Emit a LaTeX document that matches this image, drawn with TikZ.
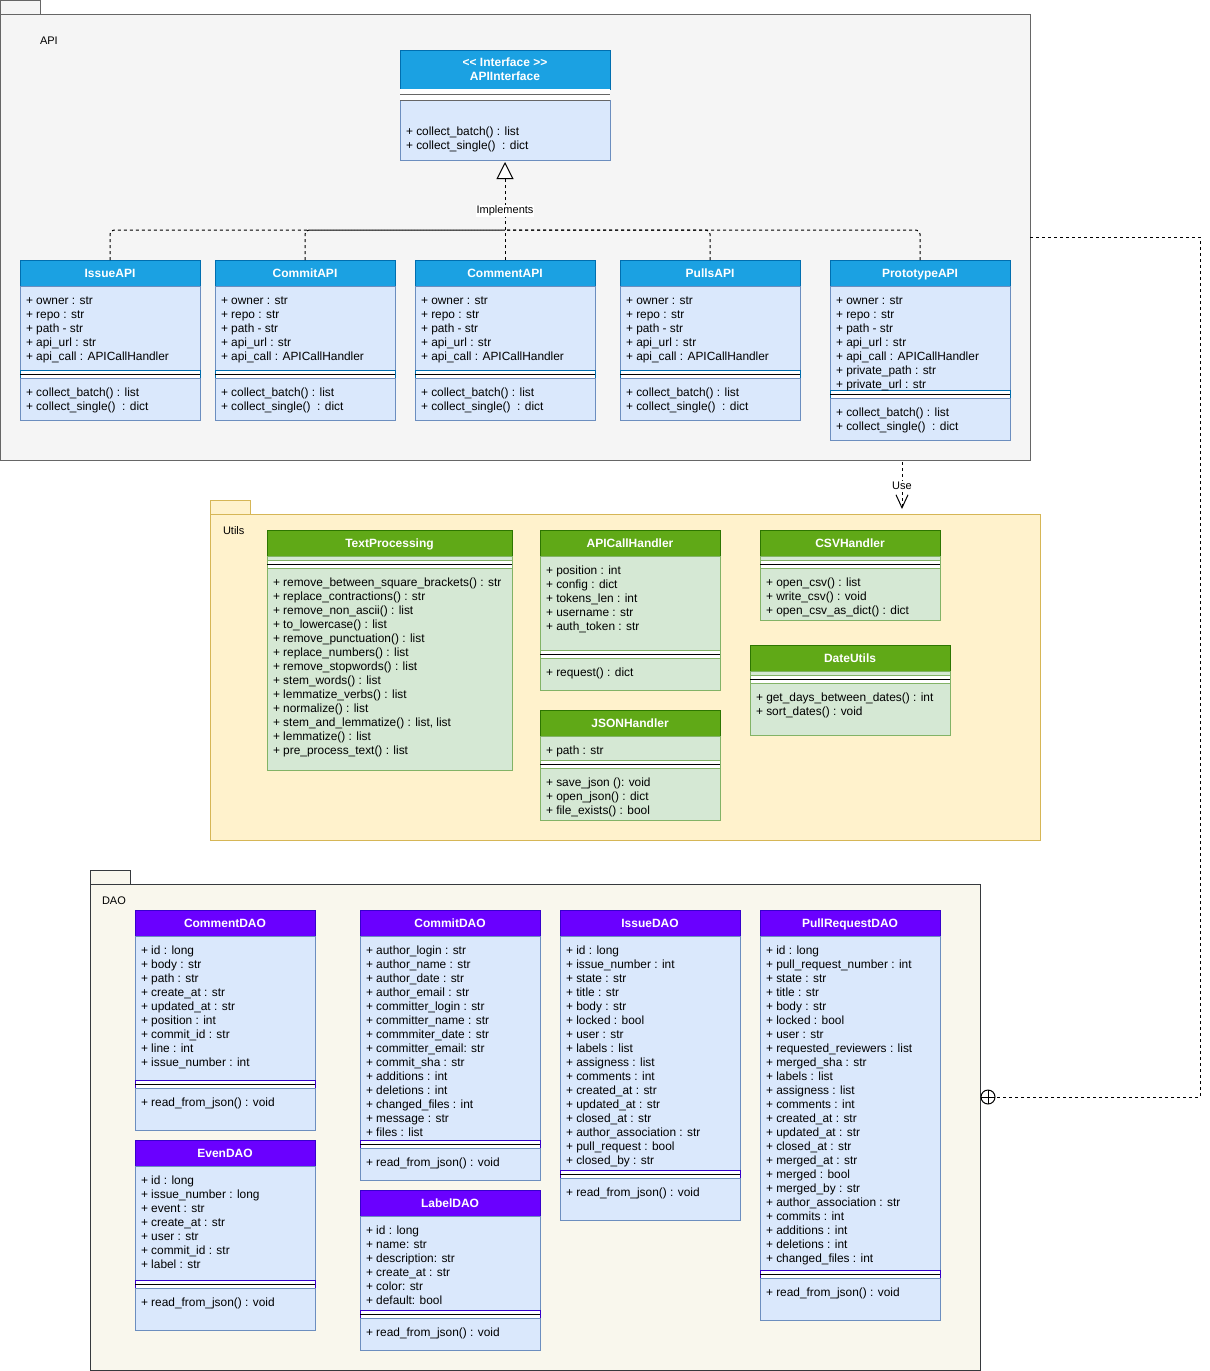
\documentclass[tikz,border=0pt]{standalone}
\usepackage{fontspec}
\setmainfont{Liberation Sans}
\usetikzlibrary{arrows.meta}
\definecolor{apiHdFill}{HTML}{1BA1E2}
\definecolor{apiHdLine}{HTML}{006EAF}
\definecolor{bodyBlue}{HTML}{DAE8FC}
\definecolor{bodyBlueLine}{HTML}{6C8EBF}
\definecolor{utlHdFill}{HTML}{60A917}
\definecolor{utlHdLine}{HTML}{2D7600}
\definecolor{bodyGreen}{HTML}{D5E8D4}
\definecolor{bodyGreenLine}{HTML}{82B366}
\definecolor{daoHdFill}{HTML}{6A00FF}
\definecolor{daoHdLine}{HTML}{3700CC}
\definecolor{pkgApiFill}{HTML}{F5F5F5}
\definecolor{pkgApiLine}{HTML}{666666}
\definecolor{pkgUtlFill}{HTML}{FFF2CC}
\definecolor{pkgUtlLine}{HTML}{D6B656}
\definecolor{pkgDaoFill}{HTML}{F9F7ED}
\definecolor{pkgDaoLine}{HTML}{36393D}
\newcommand\fsTxt{\fontsize{11.9}{14}\selectfont}
\newcommand\fsLbl{\fontsize{11}{14}\selectfont}
\newcommand\fsHd{\fontsize{12}{14}\selectfont\bfseries}
\tikzset{
  every node/.style={inner sep=0pt, outer sep=0pt},
  box/.style={draw, line width=1pt, anchor=north west, rectangle},
  hdbox/.style={box, text=white, font=\fsHd, align=center},
  apihd/.style={hdbox, fill=apiHdFill, draw=apiHdLine},
  apibd/.style={box, fill=bodyBlue, draw=bodyBlueLine},
  apisp/.style={box, fill=white, draw=apiHdLine},
  utlhd/.style={hdbox, fill=utlHdFill, draw=utlHdLine},
  utlbd/.style={box, fill=bodyGreen, draw=bodyGreenLine},
  utlsp/.style={box, fill=white, draw=bodyGreenLine},
  daohd/.style={hdbox, fill=daoHdFill, draw=daoHdLine},
  daobd/.style={box, fill=bodyBlue, draw=bodyBlueLine},
  daosp/.style={box, fill=white, draw=daoHdLine},
  sepline/.style={draw=black, line width=1pt},
  txt/.style={anchor=base west, font=\fsTxt},
  pkglabel/.style={anchor=west, font=\fsLbl},
  dashline/.style={draw=black, line width=1pt, dash pattern=on 3pt off 3pt},
  impl/.style={dashline, rounded corners=4pt},
  edgelabel/.style={fill=white, inner sep=1pt, font=\fsLbl},
}
% #1 name/title, #2 x, #3 y, #4 width, #5 attr height, #6 method height,
% #7 theme, #8 attributes, #9 methods
\newcommand\umlcls[9]{%
  \node[#7hd, minimum width=#4pt, minimum height=26pt, text height=8.6pt, text depth=0pt] (#1) at (#2,#3) {#1};
  \node[#7bd, minimum width=#4pt, minimum height=#5pt] (#1-attr) at (#1.south west) {};
  \node[#7sp, minimum width=#4pt, minimum height=8pt] (#1-sep) at (#1-attr.south west) {};
  \draw[sepline] (#1-sep.west) -- (#1-sep.east);
  \node[#7bd, minimum width=#4pt, minimum height=#6pt] (#1-meth) at (#1-sep.south west) {};
  \foreach \t [count=\i] in {#8} {\node[txt] at ([shift={(6,4+14*\i)}]#1-attr.north west) {\t};}
  \foreach \t [count=\i] in {#9} {\node[txt] at ([shift={(6,4+14*\i)}]#1-meth.north west) {\t};}
}
\begin{document}
\begin{tikzpicture}[x=1pt, y=-1pt]
\useasboundingbox (0,0) rectangle (1210,1371);

% ---------------- packages ----------------
\node[box, fill=pkgApiFill, draw=pkgApiLine, minimum width=40pt, minimum height=14pt] (apitab) at (0,0) {};
\node[box, fill=pkgApiFill, draw=pkgApiLine, minimum width=1030pt, minimum height=446pt] (api) at (0,14) {};
\node[pkglabel] (apilabel) at (40,41) {API};

\node[box, fill=pkgUtlFill, draw=pkgUtlLine, minimum width=40pt, minimum height=14pt] (utilstab) at (210,500) {};
\node[box, fill=pkgUtlFill, draw=pkgUtlLine, minimum width=830pt, minimum height=326pt] (utils) at (210,514) {};
\node[pkglabel] (utilslabel) at (223,531) {Utils};

\node[box, fill=pkgDaoFill, draw=pkgDaoLine, minimum width=40pt, minimum height=14pt] (daotab) at (90,870) {};
\node[box, fill=pkgDaoFill, draw=pkgDaoLine, minimum width=890pt, minimum height=486pt] (dao) at (90,884) {};
\node[pkglabel] (daolabel) at (102,901) {DAO};

% ---------------- API ----------------
\node[apihd, minimum width=210pt, minimum height=39pt] (APIInterface) at (400,50) {{<}{<} Interface {>}{>}\\APIInterface};
\node[box, draw=none, fill=white, minimum width=210pt, minimum height=11pt] (APIInterface-attr) at (APIInterface.south west) {};
\node[apibd, minimum width=210pt, minimum height=60pt] (APIInterface-meth) at (APIInterface-attr.south west) {};
\draw[draw=pkgApiLine, line width=1.5pt] ([yshift=-5.5pt]APIInterface.south west) -- ([yshift=-5.5pt]APIInterface.south east);
\draw[draw=pkgApiLine, line width=1pt] (APIInterface-meth.north west) -- (APIInterface-meth.north east);
\node[txt] at ([shift={(6,35.7)}]APIInterface-meth.north west) {+ collect\_batch() : list};
\node[txt] at ([shift={(6,49.7)}]APIInterface-meth.north west) {+ collect\_single()\ \ : dict};

\umlcls{IssueAPI}{20}{260}{180}{84}{42}{api}
  {{+ owner : str},{+ repo : str},{+ path - str},{+ api\_url : str},{+ api\_call : APICallHandler}}
  {{+ collect\_batch() : list},{+ collect\_single()\ \ : dict}}
\umlcls{CommitAPI}{215}{260}{180}{84}{42}{api}
  {{+ owner : str},{+ repo : str},{+ path - str},{+ api\_url : str},{+ api\_call : APICallHandler}}
  {{+ collect\_batch() : list},{+ collect\_single()\ \ : dict}}
\umlcls{CommentAPI}{415}{260}{180}{84}{42}{api}
  {{+ owner : str},{+ repo : str},{+ path - str},{+ api\_url : str},{+ api\_call : APICallHandler}}
  {{+ collect\_batch() : list},{+ collect\_single()\ \ : dict}}
\umlcls{PullsAPI}{620}{260}{180}{84}{42}{api}
  {{+ owner : str},{+ repo : str},{+ path - str},{+ api\_url : str},{+ api\_call : APICallHandler}}
  {{+ collect\_batch() : list},{+ collect\_single()\ \ : dict}}
\umlcls{PrototypeAPI}{830}{260}{180}{104}{42}{api}
  {{+ owner : str},{+ repo : str},{+ path - str},{+ api\_url : str},{+ api\_call : APICallHandler},{+ private\_path : str},{+ private\_url : str}}
  {{+ collect\_batch() : list},{+ collect\_single()\ \ : dict}}

% implements edges
\coordinate (junc) at (APIInterface-meth.south |- 0,230);
\draw[impl] (IssueAPI.north) |- (junc);
\draw[impl] (CommitAPI.north) |- (junc);
\draw[impl] (PullsAPI.north) |- (junc);
\draw[impl] (PrototypeAPI.north) |- (junc);
\draw[dashline, shorten >=2pt, -{Triangle[open, length=17pt, width=17pt, line width=1pt, fill=white]}] (CommentAPI.north) -- (APIInterface-meth.south);
\node[edgelabel] (impllabel) at (505,211) {Implements};

% ---------------- Utils ----------------
\umlcls{TextProcessing}{267}{530}{245}{4}{202}{utl}
  {}
  {{+ remove\_between\_square\_brackets() : str},{+ replace\_contractions() : str},{+ remove\_non\_ascii() : list},{+ to\_lowercase() : list},{+ remove\_punctuation() : list},{+ replace\_numbers() : list},{+ remove\_stopwords() : list},{+ stem\_words() : list},{+ lemmatize\_verbs() : list},{+ normalize() : list},{+ stem\_and\_lemmatize() : list, list},{+ lemmatize() : list},{+ pre\_process\_text() : list}}
\umlcls{APICallHandler}{540}{530}{180}{94}{32}{utl}
  {{+ position : int},{+ config : dict},{+ tokens\_len : int},{+ username : str},{+ auth\_token : str}}
  {{+ request() : dict}}
\umlcls{JSONHandler}{540}{710}{180}{24}{52}{utl}
  {{+ path : str}}
  {{+ save\_json (): void},{+ open\_json() : dict},{+ file\_exists() : bool}}
\umlcls{CSVHandler}{760}{530}{180}{4}{52}{utl}
  {}
  {{+ open\_csv() : list},{+ write\_csv() : void},{+ open\_csv\_as\_dict() : dict}}
\umlcls{DateUtils}{750}{645}{200}{4}{52}{utl}
  {}
  {{+ get\_days\_between\_dates() : int},{+ sort\_dates() : void}}

% use edge
\draw[dashline, shorten <=2pt, shorten >=5pt, -{Straight Barb[length=13pt, width=12pt, line width=1pt]}] (api.south -| 902,0) -- (utils.north -| 902,0);
\node[edgelabel] (uselabel) at (902,486) {Use};

% ---------------- DAO ----------------
\umlcls{CommentDAO}{135}{910}{180}{144}{42}{dao}
  {{+ id : long},{+ body : str},{+ path : str},{+ create\_at : str},{+ updated\_at : str},{+ position : int},{+ commit\_id : str},{+ line : int},{+ issue\_number : int}}
  {{+ read\_from\_json() : void}}
\umlcls{EvenDAO}{135}{1140}{180}{114}{42}{dao}
  {{+ id : long},{+ issue\_number : long},{+ event : str},{+ create\_at : str},{+ user : str},{+ commit\_id : str},{+ label : str}}
  {{+ read\_from\_json() : void}}
\umlcls{CommitDAO}{360}{910}{180}{204}{32}{dao}
  {{+ author\_login : str},{+ author\_name : str},{+ author\_date : str},{+ author\_email : str},{+ committer\_login : str},{+ committer\_name : str},{+ commmiter\_date : str},{+ committer\_email: str},{+ commit\_sha : str},{+ additions : int},{+ deletions : int},{+ changed\_files : int},{+ message : str},{+ files : list}}
  {{+ read\_from\_json() : void}}
\umlcls{LabelDAO}{360}{1190}{180}{94}{32}{dao}
  {{+ id : long},{+ name: str},{+ description: str},{+ create\_at : str},{+ color: str},{+ default: bool}}
  {{+ read\_from\_json() : void}}
\umlcls{IssueDAO}{560}{910}{180}{234}{42}{dao}
  {{+ id : long},{+ issue\_number : int},{+ state : str},{+ title : str},{+ body : str},{+ locked : bool},{+ user : str},{+ labels : list},{+ assigness : list},{+ comments : int},{+ created\_at : str},{+ updated\_at : str},{+ closed\_at : str},{+ author\_association : str},{+ pull\_request : bool},{+ closed\_by : str}}
  {{+ read\_from\_json() : void}}
\umlcls{PullRequestDAO}{760}{910}{180}{334}{42}{dao}
  {{+ id : long},{+ pull\_request\_number : int},{+ state : str},{+ title : str},{+ body : str},{+ locked : bool},{+ user : str},{+ requested\_reviewers : list},{+ merged\_sha : str},{+ labels : list},{+ assigness : list},{+ comments : int},{+ created\_at : str},{+ updated\_at : str},{+ closed\_at : str},{+ merged\_at : str},{+ merged : bool},{+ merged\_by : str},{+ author\_association : str},{+ commits : int},{+ additions : int},{+ deletions : int},{+ changed\_files : int}}
  {{+ read\_from\_json() : void}}

% ---------------- API -> DAO containment ----------------
\node[circle, draw, fill=white, line width=1pt, minimum size=14pt] (cp) at (988,1097) {};
\draw[line width=1pt] (cp.north) -- (cp.south) (cp.west) -- (cp.east);
\draw[dashline] (api.east) -- ++(170,0) |- (cp.east);
\end{tikzpicture}
\end{document}
